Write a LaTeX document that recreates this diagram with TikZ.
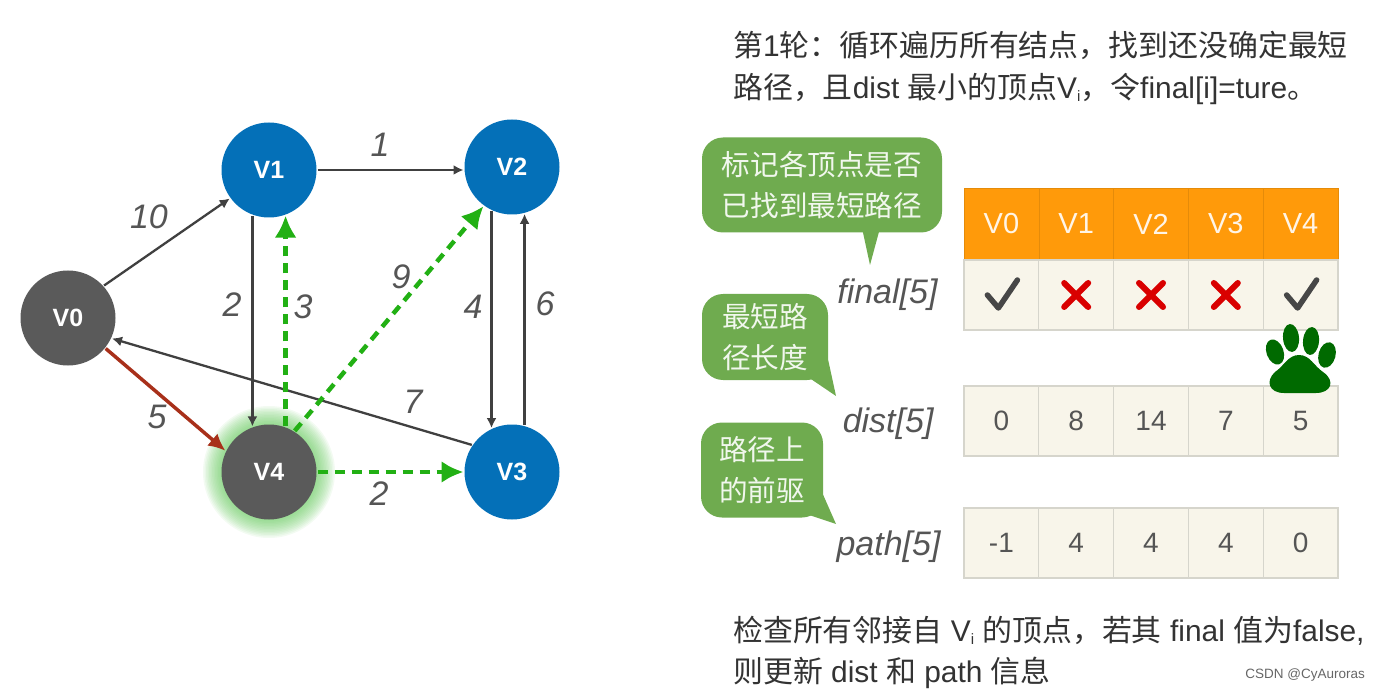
\documentclass[tikz,border=0pt]{standalone}
\usepackage{fontspec}
\setmainfont{Liberation Sans}
\newfontfamily\cjk{Noto Sans CJK SC}
\usetikzlibrary{arrows.meta}
\definecolor{vblue}{HTML}{0470B8}
\definecolor{vgray}{HTML}{5A5A5A}
\definecolor{dashgreen}{HTML}{22B014}
\definecolor{bubblegreen}{HTML}{6FAB4F}
\definecolor{arcred}{HTML}{A8301A}
\definecolor{headorange}{HTML}{FF9A0A}
\definecolor{cellcream}{HTML}{F8F5EA}
\definecolor{cellline}{HTML}{D6D5CC}
\definecolor{textgray}{HTML}{555555}
\definecolor{pawgreen}{HTML}{006A00}
\newcommand\zhcomma{\char"FF0C\relax}
\newcommand\zhcolon{\char"FF1A\relax}
\newcommand\zhstop{\char"3002\relax}
\newcommand\vsub{V\raisebox{-3pt}{\fontsize{15}{15}\selectfont i}}
\tikzset{
    vertex/.style={circle,minimum size=95pt,inner sep=0pt,outer sep=1pt,text=white,font=\fontsize{25}{25}\selectfont\bfseries},
    blackarc/.style={draw=black!75,line width=2.3pt,-{Latex[length=10pt,width=10pt]}},
    greenarc/.style={draw=dashgreen,line width=4.5pt,dash pattern=on 10pt off 7pt,-{Latex[length=22pt,width=22pt]}},
    redarc/.style={draw=arcred,line width=3.5pt,-{Latex[length=17pt,width=16pt]}},
    weight/.style={text=textgray,font=\fontsize{34}{34}\selectfont\itshape},
    bubble/.style={fill=bubblegreen,rounded corners=21pt,text=white!90!bubblegreen,align=center,inner sep=0pt,font=\fontsize{28.6}{41}\selectfont\cjk},
    headcell/.style={fill=headorange,draw=black!10!headorange,minimum width=74.8pt,minimum height=72pt,inner sep=0pt,outer sep=0pt,text=white!90!headorange,font=\fontsize{29}{29}\selectfont},
    datacell/.style={fill=cellcream,draw=cellline,line width=1.3pt,minimum width=74.8pt,minimum height=70pt,inner sep=0pt,outer sep=0pt,text=textgray,font=\fontsize{28}{28}\selectfont},
    arrayname/.style={anchor=east,text=textgray,font=\fontsize{34}{34}\selectfont\itshape},
    note/.style={anchor=west,inner sep=0pt,text=black!80,font=\fontsize{29.9}{29.9}\selectfont},
    tickline/.style={draw=black!72,line width=5.5pt,line cap=round,line join=round},
    crossline/.style={draw=red!85!black,line width=6pt,line cap=round},
}
\begin{document}
\begin{tikzpicture}[x=1pt,y=-1pt]
    \useasboundingbox (0,0) rectangle (1380,692);
    % glow round V4
    \foreach \r in {66,64.5,...,48}
        \fill[dashgreen!70!white,opacity=0.08] (269,472) circle (\r pt);
    % graph
    \node[vertex,fill=vgray] (v0) at (68,318) {V0};
    \node[vertex,fill=vblue] (v1) at (269,170) {V1};
    \node[vertex,fill=vblue] (v2) at (512,167) {V2};
    \node[vertex,fill=vblue] (v3) at (512,472) {V3};
    \node[vertex,fill=vgray] (v4) at (269,472) {V4};
    \draw[blackarc] (v0.42) -- (v1.216);
    \draw[blackarc] (v1.east) -- (v1.east -| v2.west);
    \draw[blackarc] (v1.250) -- (v4.110);
    \draw[blackarc] (v2.245) -- (v3.115);
    \draw[blackarc] (v3.75) -- (v2.285);
    \draw[blackarc] (v3.146) -- (v0.-25);
    \draw[redarc] (v0.-39) -- (v4.154);
    \draw[greenarc] (v4.70) -- (v1.290);
    \draw[greenarc] (v4.58) -- (v2.234);
    \draw[greenarc] (v4.east) -- (v3.west);
    \node[weight] (w01) at (149,217) {10};
    \node[weight] (w12) at (380,145) {1};
    \node[weight] (w14) at (232,305) {2};
    \node[weight] (w41) at (303,307) {3};
    \node[weight] (w42) at (401,277) {9};
    \node[weight] (w23) at (473,307) {4};
    \node[weight] (w32) at (545,304) {6};
    \node[weight] (w30) at (413,402) {7};
    \node[weight] (w04) at (157,417) {5};
    \node[weight] (w43) at (379,494) {2};
    % top and bottom notes
    \node[note] (top1) at (733,45) {{\cjk 第}1{\cjk 轮\zhcolon 循环遍历所有结点\zhcomma 找到还没确定最短}};
    \node[note] (top2) at (733,89) {{\cjk 路径\zhcomma 且}dist {\cjk 最小的顶点}\vsub{\cjk \zhcomma 令}final[i]=ture{\cjk \zhstop}};
    \node[note] (bot1) at (733,631) {{\cjk 检查所有邻接自} \vsub{} {\cjk 的顶点\zhcomma 若其} final {\cjk 值为}false,};
    \node[note] (bot2) at (733,673) {{\cjk 则更新} dist {\cjk 和} path {\cjk 信息}};
    % table
    \foreach \i/\t in {0/V0,1/V1,2/V2,3/V3,4/V4}
        \node[headcell] (h\i) at ({1001.4+74.8*\i},224) {\t};
    \foreach \i in {0,...,4}
        \node[datacell] (f\i) at ({1001.4+74.8*\i},295) {};
    \foreach \i in {0,4}
        \draw[tickline] ([xshift=-14pt]f\i.center) -- ([xshift=-3pt,yshift=-13pt]f\i.center) -- ([xshift=16pt,yshift=15pt]f\i.center);
    \foreach \i in {1,2,3} {
        \draw[crossline] ([xshift=-12pt,yshift=12pt]f\i.center) -- ([xshift=12pt,yshift=-12pt]f\i.center);
        \draw[crossline] ([xshift=-12pt,yshift=-12pt]f\i.center) -- ([xshift=12pt,yshift=12pt]f\i.center);
    }
    \foreach \i/\t in {0/0,1/8,2/14,3/7,4/5}
        \node[datacell] (d\i) at ({1001.4+74.8*\i},421) {\raisebox{-1pt}{\t}};
    \foreach \i/\t in {0/-1,1/4,2/4,3/4,4/0}
        \node[datacell] (p\i) at ({1001.4+74.8*\i},543) {\raisebox{-2pt}{\t}};
    \node[arrayname] (finalname) at (941,295) {final[5]};
    \node[arrayname] (distname) at (937,424) {dist[5]};
    \node[arrayname] (pathname) at (944,547) {path[5]};
    % bubbles
    \fill[bubblegreen] (862,228) -- (870,265) -- (880,228) -- cycle;
    \fill[bubblegreen] (805,375) -- (836,396) -- (826,350) -- cycle;
    \fill[bubblegreen] (800,512) -- (836,524) -- (821,490) -- cycle;
    \node[bubble,minimum width=240pt,minimum height=95pt] (b1) at (822,185) {标记各顶点是否\\已找到最短路径};
    \node[bubble,minimum width=126pt,minimum height=86pt] (b2) at (765,337) {最短路\\径长度};
    \node[bubble,minimum width=122pt,minimum height=95pt] (b3) at (762,470) {路径上\\的前驱};
    % paw
    \fill[pawgreen] (1275,352) ellipse [x radius=8.5pt,y radius=13pt,rotate=20];
    \fill[pawgreen] (1291,338) ellipse [x radius=8pt,y radius=14pt,rotate=5];
    \fill[pawgreen] (1311,341) ellipse [x radius=8pt,y radius=14pt,rotate=-5];
    \fill[pawgreen] (1327,355) ellipse [x radius=8.5pt,y radius=13pt,rotate=-15];
    \fill[pawgreen] (1299,355) .. controls (1310,355) and (1314,366) .. (1323,372) .. controls (1336,381) and (1331,393) .. (1316,393) .. controls (1306,393) and (1292,393) .. (1284,393) .. controls (1269,393) and (1265,381) .. (1275,372) .. controls (1284,366) and (1288,355) .. (1299,355) -- cycle;
    % mark
    \node[anchor=east,inner sep=0pt,text=black!60,font=\fontsize{13.5}{13.5}\selectfont] (mark) at (1365,675) {CSDN @CyAuroras};
\end{tikzpicture}
\end{document}
